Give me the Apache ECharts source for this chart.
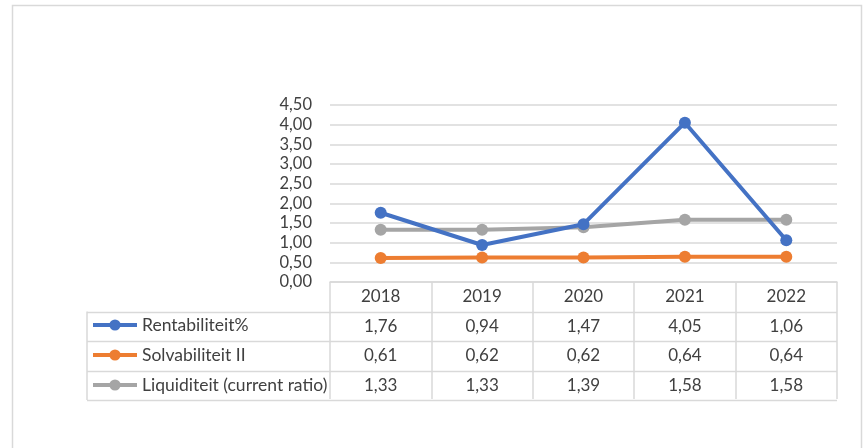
<!DOCTYPE html>
<html>
<head>
<meta charset="utf-8">
<script src="https://cdn.jsdelivr.net/npm/echarts@6/dist/echarts.min.js"></script>
<style>
  html, body { margin: 0; padding: 0; background: #fff; }
  #chart { width: 863px; height: 448px; }
</style>
</head>
<body>
<div id="chart"></div>
<script>
const years = ['2018', '2019', '2020', '2021', '2022'];
const rentabiliteit = [1.76, 0.94, 1.47, 4.05, 1.06];
const solvabiliteit = [0.61, 0.62, 0.62, 0.64, 0.64];
const liquiditeit = [1.33, 1.33, 1.39, 1.58, 1.58];
const seriesNames = ['Rentabiliteit%', 'Solvabiliteit II', 'Liquiditeit (current ratio)'];
const seriesColors = ['#4472C4', '#ED7D31', '#A5A5A5'];

const fmt = v => v.toFixed(2).replace('.', ',');
const allSeries = [rentabiliteit, solvabiliteit, liquiditeit];

const FONT = 'Lato';
const TEXT = '#404040';
const LINE = '#d9d9d9';
const ROW_H = 29.5;
const LEGEND_FS = 17.5;

const chart = echarts.init(document.getElementById('chart'));

const series = seriesNames.map((name, i) => ({
  name,
  type: 'line',
  data: allSeries[i],
  symbol: 'circle',
  symbolSize: 12,
  lineStyle: { width: 4, color: seriesColors[i] },
  itemStyle: { color: seriesColors[i] },
  z: i === 0 ? 4 : 3
}));

chart.setOption({
  animation: false,
  textStyle: { fontFamily: FONT },
  grid: { left: 330, right: 26, top: 105, bottom: 166 },
  legend: {
    orient: 'vertical',
    left: 91,
    top: 316,
    padding: 0,
    itemWidth: 44,
    itemHeight: 14,
    itemGap: ROW_H - LEGEND_FS,
    data: seriesNames,
    lineStyle: { width: 4 },
    textStyle: { color: TEXT, fontSize: LEGEND_FS, fontFamily: FONT }
  },
  xAxis: {
    type: 'category',
    data: years,
    axisLine: { lineStyle: { color: LINE, width: 1.5 } },
    axisTick: { show: true, length: ROW_H * 4 - 1, lineStyle: { color: LINE, width: 1.5 } },
    axisLabel: {
      margin: 0,
      color: TEXT,
      fontSize: 17,
      lineHeight: ROW_H,
      formatter: (val, idx) => [val].concat(allSeries.map(s => fmt(s[idx]))).join('\n')
    }
  },
  yAxis: {
    type: 'value',
    min: 0,
    max: 4.5,
    interval: 0.5,
    axisLine: { show: false },
    axisTick: { show: false },
    axisLabel: { color: TEXT, fontSize: 16.5, margin: 18, formatter: v => fmt(v) },
    splitLine: { lineStyle: { color: LINE, width: 1.5 } }
  },
  series
});

// table borders and outer frame, placed from the axis positions
function drawTable() {
  const c0 = chart.convertToPixel({ xAxisIndex: 0 }, 0);
  const catW = chart.convertToPixel({ xAxisIndex: 0 }, 1) - c0;
  const x0 = c0 - catW / 2;
  const yBase = chart.convertToPixel({ yAxisIndex: 0 }, 0);
  const xEnd = x0 + catW * years.length;
  const xLeft = 87;
  const els = [];
  for (let r = 1; r <= 4; r++) {
    const y = Math.round(yBase + r * ROW_H) + 0.5;
    els.push({ type: 'line', shape: { x1: xLeft, y1: y, x2: xEnd, y2: y }, style: { stroke: LINE, lineWidth: 1.5 } });
  }
  els.push({ type: 'line', shape: { x1: xLeft, y1: yBase + ROW_H, x2: xLeft, y2: yBase + ROW_H * 4 }, style: { stroke: LINE, lineWidth: 1.5 } });
  els.push({ type: 'rect', shape: { x: 12.5, y: 5.5, width: 849, height: 500 }, style: { fill: 'none', stroke: LINE, lineWidth: 1.5 }, silent: true });
  chart.setOption({ graphic: els });
}
drawTable();
</script>
</body>
</html>
